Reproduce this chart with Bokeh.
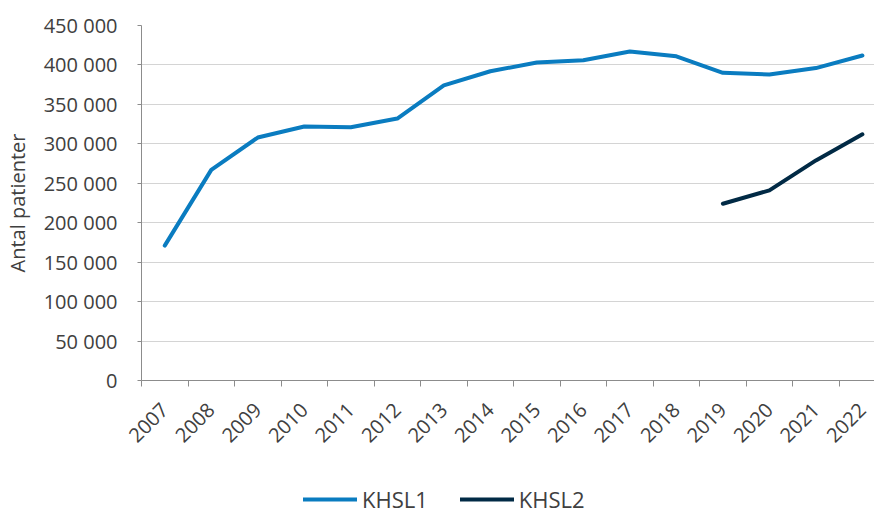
import math
from bokeh.plotting import figure
from bokeh.layouts import column
from bokeh.models import Range1d, FixedTicker, CustomJSTickFormatter, Legend, LegendItem
from bokeh.embed import file_html
from bokeh.resources import INLINE

# ---- data ----
years = ["2007", "2008", "2009", "2010", "2011", "2012", "2013", "2014",
         "2015", "2016", "2017", "2018", "2019", "2020", "2021", "2022"]
khsl1 = [171000, 267000, 308000, 322000, 321000, 332000, 374000, 392000,
         403000, 406000, 417000, 411000, 390000, 388000, 396000, 412000]
khsl2_years = ["2019", "2020", "2021", "2022"]
khsl2 = [224000, 241000, 279000, 312000]
y_ticks = [0, 50000, 100000, 150000, 200000, 250000, 300000, 350000, 400000, 450000]
y_label = "Antal patienter"
series_names = ["KHSL1", "KHSL2"]

# ---- style ----
FONT = "Open Sans"
TXT = "#404040"
AXIS = "#8c8c8c"
GRID = "#d4d4d4"
C1 = "#0a7cc0"
C2 = "#012a45"
W = 874

x1 = [years.index(y) + 0.5 for y in years]
x2 = [years.index(y) + 0.5 for y in khsl2_years]

p = figure(width=W, height=475, output_backend="svg", toolbar_location=None,
           x_range=Range1d(0, 15.76), y_range=Range1d(0, 450000),
           min_border_left=141, min_border_right=0, min_border_top=25,
           min_border_bottom=95)
p.outline_line_color = None

r1 = p.line(x1, khsl1, line_color=C1, line_width=4, line_cap="round", line_join="round")
r2 = p.line(x2, khsl2, line_color=C2, line_width=4, line_cap="round", line_join="round")

# x axis
xa = p.xaxis[0]
xa.ticker = FixedTicker(ticks=[i + 0.5 for i in range(len(years))],
                        minor_ticks=list(range(len(years) + 1)))
xa.formatter = CustomJSTickFormatter(args=dict(labels=years),
                                     code="return labels[Math.floor(tick)] || '';")
xa.major_tick_line_color = None
xa.minor_tick_line_color = AXIS
xa.minor_tick_out = 6
xa.minor_tick_in = 0
xa.axis_line_color = AXIS
xa.major_label_orientation = math.pi / 4
xa.major_label_text_font = FONT
xa.major_label_text_font_size = "20px"
xa.major_label_text_color = TXT
xa.major_label_standoff = 20

# y axis
ya = p.yaxis[0]
ya.ticker = FixedTicker(ticks=y_ticks)
ya.formatter = CustomJSTickFormatter(
    code="return Math.round(tick).toString().replace(/\\B(?=(\\d{3})+(?!\\d))/g, ' ');")
ya.major_tick_line_color = AXIS
ya.major_tick_out = 4
ya.major_tick_in = 0
ya.minor_tick_line_color = None
ya.axis_line_color = AXIS
ya.major_label_text_font = FONT
ya.major_label_text_font_size = "20px"
ya.major_label_text_color = TXT
ya.major_label_standoff = 20
ya.axis_label = y_label
ya.axis_label_text_font = FONT
ya.axis_label_text_font_size = "20px"
ya.axis_label_text_font_style = "normal"
ya.axis_label_text_color = TXT
ya.axis_label_standoff = 10

p.xgrid.grid_line_color = None
p.ygrid.grid_line_color = GRID
p.ygrid.grid_line_width = 1

# ---- legend strip (series drawn out of view; only the legend shows) ----
lg = figure(width=W, height=38, output_backend="svg", toolbar_location=None,
            x_axis_type=None, y_axis_type=None,
            x_range=Range1d(0, 1), y_range=Range1d(-2, -1),
            min_border=0, outline_line_color=None)
lg.grid.grid_line_color = None
l1 = lg.line(x1, khsl1, line_color=C1, line_width=4, line_cap="round")
l2 = lg.line(x2, khsl2, line_color=C2, line_width=4, line_cap="round")
legend = Legend(items=[LegendItem(label=series_names[0], renderers=[l1]),
                       LegendItem(label=series_names[1], renderers=[l2])],
                orientation="horizontal", location=(162, -1),
                padding=0, margin=0, spacing=32, glyph_width=54, glyph_height=20,
                label_height=20, label_standoff=5,
                label_text_font=FONT, label_text_font_size="22px",
                label_text_color=TXT, background_fill_alpha=0,
                border_line_color=None)
lg.add_layout(legend, "center")

open("out.html", "w").write(file_html(column(p, lg, spacing=0), INLINE))
